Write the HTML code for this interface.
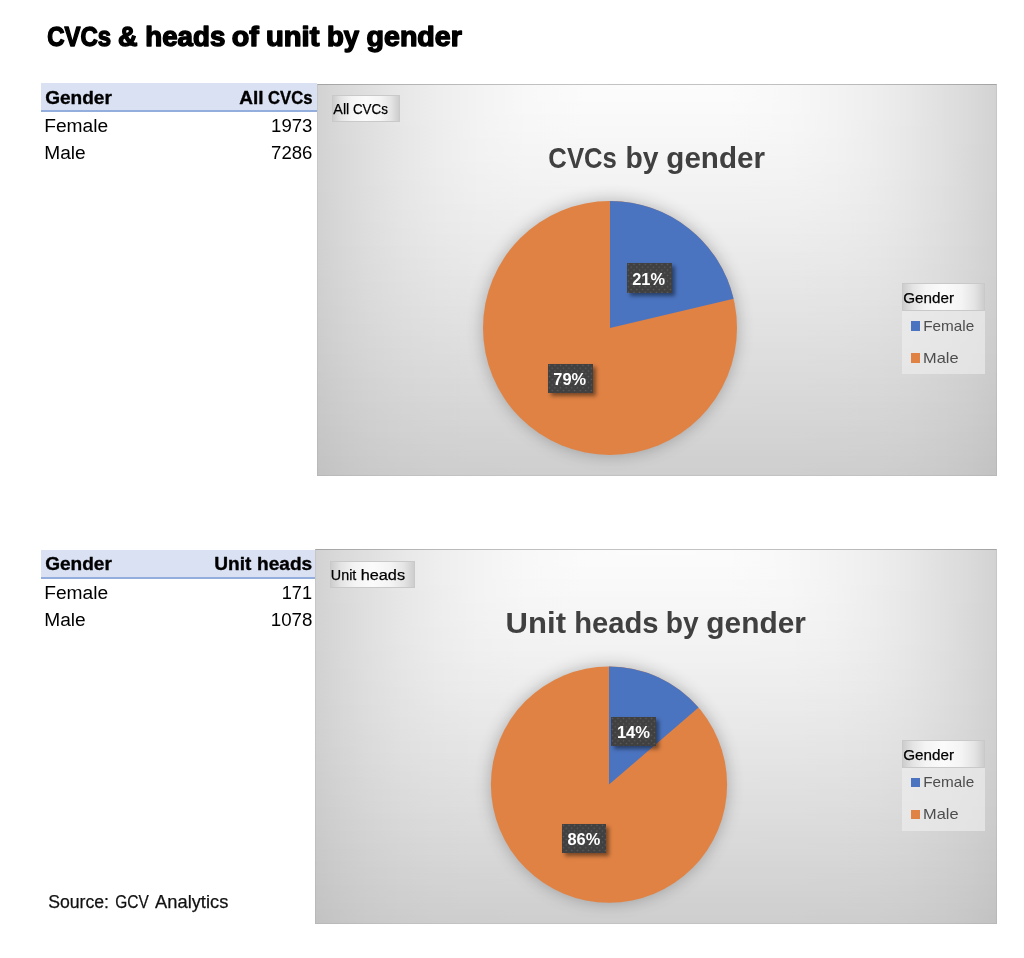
<!DOCTYPE html>
<html><head><meta charset="utf-8"><title>CVCs &amp; heads of unit by gender</title>
<style>
html,body{margin:0;padding:0;background:#fff;}
body{width:1024px;height:958px;position:relative;overflow:hidden;font-family:"Liberation Sans",sans-serif;}
svg.pies{position:absolute;left:0;top:0;z-index:2;}
svg.txt{position:absolute;left:0;top:0;z-index:5;will-change:transform;}
.hdr{position:absolute;background:#d9e1f2;border-bottom:2px solid #93addd;box-sizing:border-box;}
.chart{z-index:1;position:absolute;overflow:hidden;background:#ddd;}
.chart i{position:absolute;left:0;right:0;display:block;}
.chart:after{content:'';position:absolute;left:0;top:0;right:0;bottom:0;border:1px solid rgba(0,0,0,0.05);border-top-color:rgba(0,0,0,0.22);}
.btn{z-index:3;position:absolute;box-sizing:border-box;border:1px solid #c9c9c9;
 background:linear-gradient(90deg,#cdcdcd 0%,#e4e4e4 12%,#f4f4f4 28%,#fbfbfb 50%,#f4f4f4 72%,#e4e4e4 88%,#cdcdcd 100%);}
.legbox{z-index:3;position:absolute;background:rgba(240,240,240,0.6);}
.sw{z-index:4;position:absolute;width:9.4px;height:9.6px;}
.lbl{z-index:4;position:absolute;background-color:#404040;
 background-image:radial-gradient(circle at 1.4px 1.4px,#5e5e5e 0.55px,transparent 1.05px),radial-gradient(circle at 1.4px 1.4px,#5e5e5e 0.55px,transparent 1.05px);
 background-size:5.6px 5.6px;background-position:0 0,2.8px 2.8px;
 box-shadow:3px 3px 4px rgba(0,0,0,0.45);}
</style></head><body>
<div class="hdr" style="left:41.3px;top:83.3px;width:275.7px;height:28.4px"></div>
<div class="hdr" style="left:41.3px;top:550px;width:273.7px;height:28.6px"></div>
<div class="chart" style="left:317px;top:83.6px;width:680.3px;height:392.7px"><i style="top:0px;height:6.5px;background:linear-gradient(90deg,#d2d2d2 0%,#dadada 4%,#e0e0e0 8%,#e8e8e8 13%,#eeeeee 18%,#f3f3f3 24%,#f8f8f8 31%,#fbfbfb 40%,#fcfcfc 50%,#fbfbfb 60%,#f8f8f8 69%,#f3f3f3 76%,#eeeeee 82%,#e8e8e8 87%,#e0e0e0 92%,#dadada 96%,#d2d2d2 100%)"></i><i style="top:6px;height:6.5px;background:linear-gradient(90deg,#d2d2d2 0%,#dadada 4%,#e0e0e0 8%,#e8e8e8 13%,#eeeeee 18%,#f3f3f3 24%,#f8f8f8 31%,#fbfbfb 40%,#fbfbfb 50%,#fbfbfb 60%,#f8f8f8 69%,#f3f3f3 76%,#eeeeee 82%,#e8e8e8 87%,#e0e0e0 92%,#dadada 96%,#d2d2d2 100%)"></i><i style="top:12px;height:6.5px;background:linear-gradient(90deg,#d2d2d2 0%,#dadada 4%,#e0e0e0 8%,#e8e8e8 13%,#eeeeee 18%,#f3f3f3 24%,#f8f8f8 31%,#fbfbfb 40%,#fbfbfb 50%,#fbfbfb 60%,#f8f8f8 69%,#f3f3f3 76%,#eeeeee 82%,#e8e8e8 87%,#e0e0e0 92%,#dadada 96%,#d2d2d2 100%)"></i><i style="top:18px;height:6.5px;background:linear-gradient(90deg,#d2d2d2 0%,#dadada 4%,#e0e0e0 8%,#e8e8e8 13%,#eeeeee 18%,#f3f3f3 24%,#f8f8f8 31%,#fafafa 40%,#fafafa 50%,#fafafa 60%,#f8f8f8 69%,#f3f3f3 76%,#eeeeee 82%,#e8e8e8 87%,#e0e0e0 92%,#dadada 96%,#d2d2d2 100%)"></i><i style="top:24px;height:6.5px;background:linear-gradient(90deg,#d2d2d2 0%,#dadada 4%,#e0e0e0 8%,#e8e8e8 13%,#eeeeee 18%,#f3f3f3 24%,#f8f8f8 31%,#fafafa 40%,#fafafa 50%,#fafafa 60%,#f8f8f8 69%,#f3f3f3 76%,#eeeeee 82%,#e8e8e8 87%,#e0e0e0 92%,#dadada 96%,#d2d2d2 100%)"></i><i style="top:30px;height:6.5px;background:linear-gradient(90deg,#d2d2d2 0%,#dadada 4%,#e0e0e0 8%,#e8e8e8 13%,#eeeeee 18%,#f3f3f3 24%,#f7f7f7 31%,#f9f9f9 40%,#f9f9f9 50%,#f9f9f9 60%,#f7f7f7 69%,#f3f3f3 76%,#eeeeee 82%,#e8e8e8 87%,#e0e0e0 92%,#dadada 96%,#d2d2d2 100%)"></i><i style="top:36px;height:6.5px;background:linear-gradient(90deg,#d2d2d2 0%,#dadada 4%,#e0e0e0 8%,#e8e8e8 13%,#ededed 18%,#f3f3f3 24%,#f7f7f7 31%,#f9f9f9 40%,#f9f9f9 50%,#f9f9f9 60%,#f7f7f7 69%,#f3f3f3 76%,#ededed 82%,#e8e8e8 87%,#e0e0e0 92%,#dadada 96%,#d2d2d2 100%)"></i><i style="top:42px;height:6.5px;background:linear-gradient(90deg,#d2d2d2 0%,#dadada 4%,#e0e0e0 8%,#e7e7e7 13%,#ededed 18%,#f3f3f3 24%,#f7f7f7 31%,#f8f8f8 40%,#f8f8f8 50%,#f8f8f8 60%,#f7f7f7 69%,#f3f3f3 76%,#ededed 82%,#e7e7e7 87%,#e0e0e0 92%,#dadada 96%,#d2d2d2 100%)"></i><i style="top:48px;height:6.5px;background:linear-gradient(90deg,#d2d2d2 0%,#dadada 4%,#e0e0e0 8%,#e7e7e7 13%,#ededed 18%,#f3f3f3 24%,#f6f6f6 31%,#f8f8f8 40%,#f8f8f8 50%,#f8f8f8 60%,#f6f6f6 69%,#f3f3f3 76%,#ededed 82%,#e7e7e7 87%,#e0e0e0 92%,#dadada 96%,#d2d2d2 100%)"></i><i style="top:54px;height:6.5px;background:linear-gradient(90deg,#d2d2d2 0%,#dadada 4%,#e0e0e0 8%,#e7e7e7 13%,#ededed 18%,#f2f2f2 24%,#f6f6f6 31%,#f7f7f7 40%,#f7f7f7 50%,#f7f7f7 60%,#f6f6f6 69%,#f2f2f2 76%,#ededed 82%,#e7e7e7 87%,#e0e0e0 92%,#dadada 96%,#d2d2d2 100%)"></i><i style="top:60px;height:6.5px;background:linear-gradient(90deg,#d2d2d2 0%,#d9d9d9 4%,#e0e0e0 8%,#e7e7e7 13%,#ededed 18%,#f2f2f2 24%,#f5f5f5 31%,#f6f6f6 40%,#f6f6f6 50%,#f6f6f6 60%,#f5f5f5 69%,#f2f2f2 76%,#ededed 82%,#e7e7e7 87%,#e0e0e0 92%,#d9d9d9 96%,#d2d2d2 100%)"></i><i style="top:66px;height:6.5px;background:linear-gradient(90deg,#d2d2d2 0%,#d9d9d9 4%,#e0e0e0 8%,#e7e7e7 13%,#ededed 18%,#f2f2f2 24%,#f5f5f5 31%,#f6f6f6 40%,#f6f6f6 50%,#f6f6f6 60%,#f5f5f5 69%,#f2f2f2 76%,#ededed 82%,#e7e7e7 87%,#e0e0e0 92%,#d9d9d9 96%,#d2d2d2 100%)"></i><i style="top:72px;height:6.5px;background:linear-gradient(90deg,#d2d2d2 0%,#d9d9d9 4%,#e0e0e0 8%,#e7e7e7 13%,#ededed 18%,#f2f2f2 24%,#f4f4f4 31%,#f5f5f5 40%,#f5f5f5 50%,#f5f5f5 60%,#f4f4f4 69%,#f2f2f2 76%,#ededed 82%,#e7e7e7 87%,#e0e0e0 92%,#d9d9d9 96%,#d2d2d2 100%)"></i><i style="top:78px;height:6.5px;background:linear-gradient(90deg,#d2d2d2 0%,#d9d9d9 4%,#e0e0e0 8%,#e7e7e7 13%,#ededed 18%,#f1f1f1 24%,#f4f4f4 31%,#f4f4f4 40%,#f5f5f5 50%,#f4f4f4 60%,#f4f4f4 69%,#f1f1f1 76%,#ededed 82%,#e7e7e7 87%,#e0e0e0 92%,#d9d9d9 96%,#d2d2d2 100%)"></i><i style="top:84px;height:6.5px;background:linear-gradient(90deg,#d2d2d2 0%,#d9d9d9 4%,#e0e0e0 8%,#e7e7e7 13%,#ececec 18%,#f1f1f1 24%,#f3f3f3 31%,#f4f4f4 40%,#f4f4f4 50%,#f4f4f4 60%,#f3f3f3 69%,#f1f1f1 76%,#ececec 82%,#e7e7e7 87%,#e0e0e0 92%,#d9d9d9 96%,#d2d2d2 100%)"></i><i style="top:90px;height:6.5px;background:linear-gradient(90deg,#d2d2d2 0%,#d9d9d9 4%,#e0e0e0 8%,#e7e7e7 13%,#ececec 18%,#f0f0f0 24%,#f3f3f3 31%,#f3f3f3 40%,#f3f3f3 50%,#f3f3f3 60%,#f3f3f3 69%,#f0f0f0 76%,#ececec 82%,#e7e7e7 87%,#e0e0e0 92%,#d9d9d9 96%,#d2d2d2 100%)"></i><i style="top:96px;height:6.5px;background:linear-gradient(90deg,#d2d2d2 0%,#d9d9d9 4%,#e0e0e0 8%,#e6e6e6 13%,#ececec 18%,#f0f0f0 24%,#f2f2f2 31%,#f3f3f3 40%,#f3f3f3 50%,#f3f3f3 60%,#f2f2f2 69%,#f0f0f0 76%,#ececec 82%,#e6e6e6 87%,#e0e0e0 92%,#d9d9d9 96%,#d2d2d2 100%)"></i><i style="top:102px;height:6.5px;background:linear-gradient(90deg,#d2d2d2 0%,#d9d9d9 4%,#dfdfdf 8%,#e6e6e6 13%,#ebebeb 18%,#f0f0f0 24%,#f1f1f1 31%,#f2f2f2 40%,#f2f2f2 50%,#f2f2f2 60%,#f1f1f1 69%,#f0f0f0 76%,#ebebeb 82%,#e6e6e6 87%,#dfdfdf 92%,#d9d9d9 96%,#d2d2d2 100%)"></i><i style="top:108px;height:6.5px;background:linear-gradient(90deg,#d1d1d1 0%,#d9d9d9 4%,#dfdfdf 8%,#e6e6e6 13%,#ebebeb 18%,#efefef 24%,#f1f1f1 31%,#f1f1f1 40%,#f1f1f1 50%,#f1f1f1 60%,#f1f1f1 69%,#efefef 76%,#ebebeb 82%,#e6e6e6 87%,#dfdfdf 92%,#d9d9d9 96%,#d1d1d1 100%)"></i><i style="top:114px;height:6.5px;background:linear-gradient(90deg,#d1d1d1 0%,#d9d9d9 4%,#dfdfdf 8%,#e6e6e6 13%,#ebebeb 18%,#efefef 24%,#f0f0f0 31%,#f1f1f1 40%,#f1f1f1 50%,#f1f1f1 60%,#f0f0f0 69%,#efefef 76%,#ebebeb 82%,#e6e6e6 87%,#dfdfdf 92%,#d9d9d9 96%,#d1d1d1 100%)"></i><i style="top:120px;height:6.5px;background:linear-gradient(90deg,#d1d1d1 0%,#d9d9d9 4%,#dfdfdf 8%,#e6e6e6 13%,#eaeaea 18%,#eeeeee 24%,#f0f0f0 31%,#f0f0f0 40%,#f0f0f0 50%,#f0f0f0 60%,#f0f0f0 69%,#eeeeee 76%,#eaeaea 82%,#e6e6e6 87%,#dfdfdf 92%,#d9d9d9 96%,#d1d1d1 100%)"></i><i style="top:126px;height:6.5px;background:linear-gradient(90deg,#d1d1d1 0%,#d8d8d8 4%,#dfdfdf 8%,#e5e5e5 13%,#eaeaea 18%,#ededed 24%,#efefef 31%,#efefef 40%,#efefef 50%,#efefef 60%,#efefef 69%,#ededed 76%,#eaeaea 82%,#e5e5e5 87%,#dfdfdf 92%,#d8d8d8 96%,#d1d1d1 100%)"></i><i style="top:132px;height:6.5px;background:linear-gradient(90deg,#d1d1d1 0%,#d8d8d8 4%,#dfdfdf 8%,#e5e5e5 13%,#eaeaea 18%,#ededed 24%,#eeeeee 31%,#efefef 40%,#efefef 50%,#efefef 60%,#eeeeee 69%,#ededed 76%,#eaeaea 82%,#e5e5e5 87%,#dfdfdf 92%,#d8d8d8 96%,#d1d1d1 100%)"></i><i style="top:138px;height:6.5px;background:linear-gradient(90deg,#d1d1d1 0%,#d8d8d8 4%,#dedede 8%,#e5e5e5 13%,#e9e9e9 18%,#ececec 24%,#eeeeee 31%,#eeeeee 40%,#eeeeee 50%,#eeeeee 60%,#eeeeee 69%,#ececec 76%,#e9e9e9 82%,#e5e5e5 87%,#dedede 92%,#d8d8d8 96%,#d1d1d1 100%)"></i><i style="top:144px;height:6.5px;background:linear-gradient(90deg,#d1d1d1 0%,#d8d8d8 4%,#dedede 8%,#e4e4e4 13%,#e9e9e9 18%,#ececec 24%,#ededed 31%,#ededed 40%,#ededed 50%,#ededed 60%,#ededed 69%,#ececec 76%,#e9e9e9 82%,#e4e4e4 87%,#dedede 92%,#d8d8d8 96%,#d1d1d1 100%)"></i><i style="top:150px;height:6.5px;background:linear-gradient(90deg,#d1d1d1 0%,#d8d8d8 4%,#dedede 8%,#e4e4e4 13%,#e8e8e8 18%,#ebebeb 24%,#ececec 31%,#ececec 40%,#ececec 50%,#ececec 60%,#ececec 69%,#ebebeb 76%,#e8e8e8 82%,#e4e4e4 87%,#dedede 92%,#d8d8d8 96%,#d1d1d1 100%)"></i><i style="top:156px;height:6.5px;background:linear-gradient(90deg,#d0d0d0 0%,#d8d8d8 4%,#dedede 8%,#e4e4e4 13%,#e8e8e8 18%,#eaeaea 24%,#ececec 31%,#ececec 40%,#ececec 50%,#ececec 60%,#ececec 69%,#eaeaea 76%,#e8e8e8 82%,#e4e4e4 87%,#dedede 92%,#d8d8d8 96%,#d0d0d0 100%)"></i><i style="top:162px;height:6.5px;background:linear-gradient(90deg,#d0d0d0 0%,#d7d7d7 4%,#dddddd 8%,#e3e3e3 13%,#e7e7e7 18%,#eaeaea 24%,#ebebeb 31%,#ebebeb 40%,#ebebeb 50%,#ebebeb 60%,#ebebeb 69%,#eaeaea 76%,#e7e7e7 82%,#e3e3e3 87%,#dddddd 92%,#d7d7d7 96%,#d0d0d0 100%)"></i><i style="top:168px;height:6.5px;background:linear-gradient(90deg,#d0d0d0 0%,#d7d7d7 4%,#dddddd 8%,#e3e3e3 13%,#e7e7e7 18%,#e9e9e9 24%,#eaeaea 31%,#eaeaea 40%,#eaeaea 50%,#eaeaea 60%,#eaeaea 69%,#e9e9e9 76%,#e7e7e7 82%,#e3e3e3 87%,#dddddd 92%,#d7d7d7 96%,#d0d0d0 100%)"></i><i style="top:174px;height:6.5px;background:linear-gradient(90deg,#d0d0d0 0%,#d7d7d7 4%,#dddddd 8%,#e2e2e2 13%,#e6e6e6 18%,#e9e9e9 24%,#e9e9e9 31%,#eaeaea 40%,#eaeaea 50%,#eaeaea 60%,#e9e9e9 69%,#e9e9e9 76%,#e6e6e6 82%,#e2e2e2 87%,#dddddd 92%,#d7d7d7 96%,#d0d0d0 100%)"></i><i style="top:180px;height:6.5px;background:linear-gradient(90deg,#d0d0d0 0%,#d7d7d7 4%,#dcdcdc 8%,#e2e2e2 13%,#e6e6e6 18%,#e8e8e8 24%,#e9e9e9 31%,#e9e9e9 40%,#e9e9e9 50%,#e9e9e9 60%,#e9e9e9 69%,#e8e8e8 76%,#e6e6e6 82%,#e2e2e2 87%,#dcdcdc 92%,#d7d7d7 96%,#d0d0d0 100%)"></i><i style="top:186px;height:6.5px;background:linear-gradient(90deg,#d0d0d0 0%,#d6d6d6 4%,#dcdcdc 8%,#e1e1e1 13%,#e5e5e5 18%,#e7e7e7 24%,#e8e8e8 31%,#e8e8e8 40%,#e8e8e8 50%,#e8e8e8 60%,#e8e8e8 69%,#e7e7e7 76%,#e5e5e5 82%,#e1e1e1 87%,#dcdcdc 92%,#d6d6d6 96%,#d0d0d0 100%)"></i><i style="top:192px;height:6.5px;background:linear-gradient(90deg,#cfcfcf 0%,#d6d6d6 4%,#dcdcdc 8%,#e1e1e1 13%,#e4e4e4 18%,#e6e6e6 24%,#e7e7e7 31%,#e7e7e7 40%,#e7e7e7 50%,#e7e7e7 60%,#e7e7e7 69%,#e6e6e6 76%,#e4e4e4 82%,#e1e1e1 87%,#dcdcdc 92%,#d6d6d6 96%,#cfcfcf 100%)"></i><i style="top:198px;height:6.5px;background:linear-gradient(90deg,#cfcfcf 0%,#d6d6d6 4%,#dbdbdb 8%,#e0e0e0 13%,#e4e4e4 18%,#e6e6e6 24%,#e7e7e7 31%,#e7e7e7 40%,#e7e7e7 50%,#e7e7e7 60%,#e7e7e7 69%,#e6e6e6 76%,#e4e4e4 82%,#e0e0e0 87%,#dbdbdb 92%,#d6d6d6 96%,#cfcfcf 100%)"></i><i style="top:204px;height:6.5px;background:linear-gradient(90deg,#cfcfcf 0%,#d5d5d5 4%,#dbdbdb 8%,#e0e0e0 13%,#e3e3e3 18%,#e5e5e5 24%,#e6e6e6 31%,#e6e6e6 40%,#e6e6e6 50%,#e6e6e6 60%,#e6e6e6 69%,#e5e5e5 76%,#e3e3e3 82%,#e0e0e0 87%,#dbdbdb 92%,#d5d5d5 96%,#cfcfcf 100%)"></i><i style="top:210px;height:6.5px;background:linear-gradient(90deg,#cfcfcf 0%,#d5d5d5 4%,#dbdbdb 8%,#dfdfdf 13%,#e3e3e3 18%,#e4e4e4 24%,#e5e5e5 31%,#e5e5e5 40%,#e5e5e5 50%,#e5e5e5 60%,#e5e5e5 69%,#e4e4e4 76%,#e3e3e3 82%,#dfdfdf 87%,#dbdbdb 92%,#d5d5d5 96%,#cfcfcf 100%)"></i><i style="top:216px;height:6.5px;background:linear-gradient(90deg,#cecece 0%,#d5d5d5 4%,#dadada 8%,#dfdfdf 13%,#e2e2e2 18%,#e4e4e4 24%,#e4e4e4 31%,#e4e4e4 40%,#e4e4e4 50%,#e4e4e4 60%,#e4e4e4 69%,#e4e4e4 76%,#e2e2e2 82%,#dfdfdf 87%,#dadada 92%,#d5d5d5 96%,#cecece 100%)"></i><i style="top:222px;height:6.5px;background:linear-gradient(90deg,#cecece 0%,#d4d4d4 4%,#dadada 8%,#dedede 13%,#e1e1e1 18%,#e3e3e3 24%,#e4e4e4 31%,#e4e4e4 40%,#e4e4e4 50%,#e4e4e4 60%,#e4e4e4 69%,#e3e3e3 76%,#e1e1e1 82%,#dedede 87%,#dadada 92%,#d4d4d4 96%,#cecece 100%)"></i><i style="top:228px;height:6.5px;background:linear-gradient(90deg,#cecece 0%,#d4d4d4 4%,#d9d9d9 8%,#dedede 13%,#e1e1e1 18%,#e2e2e2 24%,#e3e3e3 31%,#e3e3e3 40%,#e3e3e3 50%,#e3e3e3 60%,#e3e3e3 69%,#e2e2e2 76%,#e1e1e1 82%,#dedede 87%,#d9d9d9 92%,#d4d4d4 96%,#cecece 100%)"></i><i style="top:234px;height:6.5px;background:linear-gradient(90deg,#cdcdcd 0%,#d4d4d4 4%,#d9d9d9 8%,#dddddd 13%,#e0e0e0 18%,#e2e2e2 24%,#e2e2e2 31%,#e2e2e2 40%,#e2e2e2 50%,#e2e2e2 60%,#e2e2e2 69%,#e2e2e2 76%,#e0e0e0 82%,#dddddd 87%,#d9d9d9 92%,#d4d4d4 96%,#cdcdcd 100%)"></i><i style="top:240px;height:6.5px;background:linear-gradient(90deg,#cdcdcd 0%,#d3d3d3 4%,#d8d8d8 8%,#dddddd 13%,#dfdfdf 18%,#e1e1e1 24%,#e1e1e1 31%,#e2e2e2 40%,#e2e2e2 50%,#e2e2e2 60%,#e1e1e1 69%,#e1e1e1 76%,#dfdfdf 82%,#dddddd 87%,#d8d8d8 92%,#d3d3d3 96%,#cdcdcd 100%)"></i><i style="top:246px;height:6.5px;background:linear-gradient(90deg,#cdcdcd 0%,#d3d3d3 4%,#d8d8d8 8%,#dcdcdc 13%,#dfdfdf 18%,#e0e0e0 24%,#e1e1e1 31%,#e1e1e1 40%,#e1e1e1 50%,#e1e1e1 60%,#e1e1e1 69%,#e0e0e0 76%,#dfdfdf 82%,#dcdcdc 87%,#d8d8d8 92%,#d3d3d3 96%,#cdcdcd 100%)"></i><i style="top:252px;height:6.5px;background:linear-gradient(90deg,#cccccc 0%,#d3d3d3 4%,#d7d7d7 8%,#dbdbdb 13%,#dedede 18%,#dfdfdf 24%,#e0e0e0 31%,#e0e0e0 40%,#e0e0e0 50%,#e0e0e0 60%,#e0e0e0 69%,#dfdfdf 76%,#dedede 82%,#dbdbdb 87%,#d7d7d7 92%,#d3d3d3 96%,#cccccc 100%)"></i><i style="top:258px;height:6.5px;background:linear-gradient(90deg,#cccccc 0%,#d2d2d2 4%,#d7d7d7 8%,#dbdbdb 13%,#dddddd 18%,#dfdfdf 24%,#dfdfdf 31%,#dfdfdf 40%,#dfdfdf 50%,#dfdfdf 60%,#dfdfdf 69%,#dfdfdf 76%,#dddddd 82%,#dbdbdb 87%,#d7d7d7 92%,#d2d2d2 96%,#cccccc 100%)"></i><i style="top:264px;height:6.5px;background:linear-gradient(90deg,#cccccc 0%,#d2d2d2 4%,#d6d6d6 8%,#dadada 13%,#dddddd 18%,#dedede 24%,#dedede 31%,#dedede 40%,#dedede 50%,#dedede 60%,#dedede 69%,#dedede 76%,#dddddd 82%,#dadada 87%,#d6d6d6 92%,#d2d2d2 96%,#cccccc 100%)"></i><i style="top:270px;height:6.5px;background:linear-gradient(90deg,#cbcbcb 0%,#d1d1d1 4%,#d6d6d6 8%,#dadada 13%,#dcdcdc 18%,#dddddd 24%,#dedede 31%,#dedede 40%,#dedede 50%,#dedede 60%,#dedede 69%,#dddddd 76%,#dcdcdc 82%,#dadada 87%,#d6d6d6 92%,#d1d1d1 96%,#cbcbcb 100%)"></i><i style="top:276px;height:6.5px;background:linear-gradient(90deg,#cbcbcb 0%,#d1d1d1 4%,#d5d5d5 8%,#d9d9d9 13%,#dbdbdb 18%,#dcdcdc 24%,#dddddd 31%,#dddddd 40%,#dddddd 50%,#dddddd 60%,#dddddd 69%,#dcdcdc 76%,#dbdbdb 82%,#d9d9d9 87%,#d5d5d5 92%,#d1d1d1 96%,#cbcbcb 100%)"></i><i style="top:282px;height:6.5px;background:linear-gradient(90deg,#cbcbcb 0%,#d0d0d0 4%,#d5d5d5 8%,#d8d8d8 13%,#dadada 18%,#dcdcdc 24%,#dcdcdc 31%,#dcdcdc 40%,#dcdcdc 50%,#dcdcdc 60%,#dcdcdc 69%,#dcdcdc 76%,#dadada 82%,#d8d8d8 87%,#d5d5d5 92%,#d0d0d0 96%,#cbcbcb 100%)"></i><i style="top:288px;height:6.5px;background:linear-gradient(90deg,#cacaca 0%,#d0d0d0 4%,#d4d4d4 8%,#d8d8d8 13%,#dadada 18%,#dbdbdb 24%,#dbdbdb 31%,#dbdbdb 40%,#dbdbdb 50%,#dbdbdb 60%,#dbdbdb 69%,#dbdbdb 76%,#dadada 82%,#d8d8d8 87%,#d4d4d4 92%,#d0d0d0 96%,#cacaca 100%)"></i><i style="top:294px;height:6.5px;background:linear-gradient(90deg,#cacaca 0%,#cfcfcf 4%,#d3d3d3 8%,#d7d7d7 13%,#d9d9d9 18%,#dadada 24%,#dbdbdb 31%,#dbdbdb 40%,#dbdbdb 50%,#dbdbdb 60%,#dbdbdb 69%,#dadada 76%,#d9d9d9 82%,#d7d7d7 87%,#d3d3d3 92%,#cfcfcf 96%,#cacaca 100%)"></i><i style="top:300px;height:6.5px;background:linear-gradient(90deg,#c9c9c9 0%,#cfcfcf 4%,#d3d3d3 8%,#d6d6d6 13%,#d8d8d8 18%,#d9d9d9 24%,#dadada 31%,#dadada 40%,#dadada 50%,#dadada 60%,#dadada 69%,#d9d9d9 76%,#d8d8d8 82%,#d6d6d6 87%,#d3d3d3 92%,#cfcfcf 96%,#c9c9c9 100%)"></i><i style="top:306px;height:6.5px;background:linear-gradient(90deg,#c9c9c9 0%,#cecece 4%,#d2d2d2 8%,#d6d6d6 13%,#d8d8d8 18%,#d9d9d9 24%,#d9d9d9 31%,#d9d9d9 40%,#d9d9d9 50%,#d9d9d9 60%,#d9d9d9 69%,#d9d9d9 76%,#d8d8d8 82%,#d6d6d6 87%,#d2d2d2 92%,#cecece 96%,#c9c9c9 100%)"></i><i style="top:312px;height:6.5px;background:linear-gradient(90deg,#c8c8c8 0%,#cecece 4%,#d2d2d2 8%,#d5d5d5 13%,#d7d7d7 18%,#d8d8d8 24%,#d8d8d8 31%,#d8d8d8 40%,#d8d8d8 50%,#d8d8d8 60%,#d8d8d8 69%,#d8d8d8 76%,#d7d7d7 82%,#d5d5d5 87%,#d2d2d2 92%,#cecece 96%,#c8c8c8 100%)"></i><i style="top:318px;height:6.5px;background:linear-gradient(90deg,#c8c8c8 0%,#cdcdcd 4%,#d1d1d1 8%,#d4d4d4 13%,#d6d6d6 18%,#d7d7d7 24%,#d7d7d7 31%,#d8d8d8 40%,#d8d8d8 50%,#d8d8d8 60%,#d7d7d7 69%,#d7d7d7 76%,#d6d6d6 82%,#d4d4d4 87%,#d1d1d1 92%,#cdcdcd 96%,#c8c8c8 100%)"></i><i style="top:324px;height:6.5px;background:linear-gradient(90deg,#c8c8c8 0%,#cdcdcd 4%,#d0d0d0 8%,#d4d4d4 13%,#d5d5d5 18%,#d6d6d6 24%,#d7d7d7 31%,#d7d7d7 40%,#d7d7d7 50%,#d7d7d7 60%,#d7d7d7 69%,#d6d6d6 76%,#d5d5d5 82%,#d4d4d4 87%,#d0d0d0 92%,#cdcdcd 96%,#c8c8c8 100%)"></i><i style="top:330px;height:6.5px;background:linear-gradient(90deg,#c7c7c7 0%,#cccccc 4%,#d0d0d0 8%,#d3d3d3 13%,#d5d5d5 18%,#d6d6d6 24%,#d6d6d6 31%,#d6d6d6 40%,#d6d6d6 50%,#d6d6d6 60%,#d6d6d6 69%,#d6d6d6 76%,#d5d5d5 82%,#d3d3d3 87%,#d0d0d0 92%,#cccccc 96%,#c7c7c7 100%)"></i><i style="top:336px;height:6.5px;background:linear-gradient(90deg,#c7c7c7 0%,#cccccc 4%,#cfcfcf 8%,#d2d2d2 13%,#d4d4d4 18%,#d5d5d5 24%,#d5d5d5 31%,#d5d5d5 40%,#d5d5d5 50%,#d5d5d5 60%,#d5d5d5 69%,#d5d5d5 76%,#d4d4d4 82%,#d2d2d2 87%,#cfcfcf 92%,#cccccc 96%,#c7c7c7 100%)"></i><i style="top:342px;height:6.5px;background:linear-gradient(90deg,#c6c6c6 0%,#cbcbcb 4%,#cfcfcf 8%,#d2d2d2 13%,#d3d3d3 18%,#d4d4d4 24%,#d4d4d4 31%,#d4d4d4 40%,#d4d4d4 50%,#d4d4d4 60%,#d4d4d4 69%,#d4d4d4 76%,#d3d3d3 82%,#d2d2d2 87%,#cfcfcf 92%,#cbcbcb 96%,#c6c6c6 100%)"></i><i style="top:348px;height:6.5px;background:linear-gradient(90deg,#c6c6c6 0%,#cacaca 4%,#cecece 8%,#d1d1d1 13%,#d2d2d2 18%,#d3d3d3 24%,#d4d4d4 31%,#d4d4d4 40%,#d4d4d4 50%,#d4d4d4 60%,#d4d4d4 69%,#d3d3d3 76%,#d2d2d2 82%,#d1d1d1 87%,#cecece 92%,#cacaca 96%,#c6c6c6 100%)"></i><i style="top:354px;height:6.5px;background:linear-gradient(90deg,#c5c5c5 0%,#cacaca 4%,#cdcdcd 8%,#d0d0d0 13%,#d2d2d2 18%,#d2d2d2 24%,#d3d3d3 31%,#d3d3d3 40%,#d3d3d3 50%,#d3d3d3 60%,#d3d3d3 69%,#d2d2d2 76%,#d2d2d2 82%,#d0d0d0 87%,#cdcdcd 92%,#cacaca 96%,#c5c5c5 100%)"></i><i style="top:360px;height:6.5px;background:linear-gradient(90deg,#c5c5c5 0%,#c9c9c9 4%,#cdcdcd 8%,#cfcfcf 13%,#d1d1d1 18%,#d2d2d2 24%,#d2d2d2 31%,#d2d2d2 40%,#d2d2d2 50%,#d2d2d2 60%,#d2d2d2 69%,#d2d2d2 76%,#d1d1d1 82%,#cfcfcf 87%,#cdcdcd 92%,#c9c9c9 96%,#c5c5c5 100%)"></i><i style="top:366px;height:6.5px;background:linear-gradient(90deg,#c4c4c4 0%,#c9c9c9 4%,#cccccc 8%,#cfcfcf 13%,#d0d0d0 18%,#d1d1d1 24%,#d1d1d1 31%,#d1d1d1 40%,#d1d1d1 50%,#d1d1d1 60%,#d1d1d1 69%,#d1d1d1 76%,#d0d0d0 82%,#cfcfcf 87%,#cccccc 92%,#c9c9c9 96%,#c4c4c4 100%)"></i><i style="top:372px;height:6.5px;background:linear-gradient(90deg,#c3c3c3 0%,#c8c8c8 4%,#cbcbcb 8%,#cecece 13%,#cfcfcf 18%,#d0d0d0 24%,#d0d0d0 31%,#d0d0d0 40%,#d0d0d0 50%,#d0d0d0 60%,#d0d0d0 69%,#d0d0d0 76%,#cfcfcf 82%,#cecece 87%,#cbcbcb 92%,#c8c8c8 96%,#c3c3c3 100%)"></i><i style="top:378px;height:6.5px;background:linear-gradient(90deg,#c3c3c3 0%,#c7c7c7 4%,#cbcbcb 8%,#cdcdcd 13%,#cfcfcf 18%,#cfcfcf 24%,#d0d0d0 31%,#d0d0d0 40%,#d0d0d0 50%,#d0d0d0 60%,#d0d0d0 69%,#cfcfcf 76%,#cfcfcf 82%,#cdcdcd 87%,#cbcbcb 92%,#c7c7c7 96%,#c3c3c3 100%)"></i><i style="top:384px;height:6.5px;background:linear-gradient(90deg,#c2c2c2 0%,#c7c7c7 4%,#cacaca 8%,#cccccc 13%,#cecece 18%,#cecece 24%,#cfcfcf 31%,#cfcfcf 40%,#cfcfcf 50%,#cfcfcf 60%,#cfcfcf 69%,#cecece 76%,#cecece 82%,#cccccc 87%,#cacaca 92%,#c7c7c7 96%,#c2c2c2 100%)"></i><i style="top:390px;height:3.2px;background:linear-gradient(90deg,#c2c2c2 0%,#c6c6c6 4%,#c9c9c9 8%,#cccccc 13%,#cdcdcd 18%,#cecece 24%,#cecece 31%,#cecece 40%,#cecece 50%,#cecece 60%,#cecece 69%,#cecece 76%,#cdcdcd 82%,#cccccc 87%,#c9c9c9 92%,#c6c6c6 96%,#c2c2c2 100%)"></i></div>
<div class="btn" style="left:331.7px;top:95.2px;width:68px;height:26.5px"></div>
<div class="legbox" style="left:902px;top:283px;width:83px;height:91px"></div>
<div class="btn" style="left:902px;top:283px;width:83px;height:28px"></div>
<div class="sw" style="left:910.6px;top:321.3px;background:#4b74c0"></div>
<div class="sw" style="left:910.6px;top:353.3px;background:#e08244"></div>
<div class="lbl" style="left:626.8px;top:263.1px;width:45.3px;height:29.7px"></div>
<div class="lbl" style="left:548px;top:363.9px;width:44.8px;height:28.9px"></div>
<div class="chart" style="left:315px;top:549.25px;width:682.25px;height:374.25px"><i style="top:0px;height:6.5px;background:linear-gradient(90deg,#d2d2d2 0%,#dadada 4%,#e0e0e0 8%,#e8e8e8 13%,#eeeeee 18%,#f3f3f3 24%,#f8f8f8 31%,#fbfbfb 40%,#fcfcfc 50%,#fbfbfb 60%,#f8f8f8 69%,#f3f3f3 76%,#eeeeee 82%,#e8e8e8 87%,#e0e0e0 92%,#dadada 96%,#d2d2d2 100%)"></i><i style="top:6px;height:6.5px;background:linear-gradient(90deg,#d2d2d2 0%,#dadada 4%,#e0e0e0 8%,#e8e8e8 13%,#eeeeee 18%,#f3f3f3 24%,#f8f8f8 31%,#fbfbfb 40%,#fbfbfb 50%,#fbfbfb 60%,#f8f8f8 69%,#f3f3f3 76%,#eeeeee 82%,#e8e8e8 87%,#e0e0e0 92%,#dadada 96%,#d2d2d2 100%)"></i><i style="top:12px;height:6.5px;background:linear-gradient(90deg,#d2d2d2 0%,#dadada 4%,#e0e0e0 8%,#e8e8e8 13%,#eeeeee 18%,#f3f3f3 24%,#f8f8f8 31%,#fbfbfb 40%,#fbfbfb 50%,#fbfbfb 60%,#f8f8f8 69%,#f3f3f3 76%,#eeeeee 82%,#e8e8e8 87%,#e0e0e0 92%,#dadada 96%,#d2d2d2 100%)"></i><i style="top:18px;height:6.5px;background:linear-gradient(90deg,#d2d2d2 0%,#dadada 4%,#e0e0e0 8%,#e8e8e8 13%,#eeeeee 18%,#f3f3f3 24%,#f8f8f8 31%,#fafafa 40%,#fafafa 50%,#fafafa 60%,#f8f8f8 69%,#f3f3f3 76%,#eeeeee 82%,#e8e8e8 87%,#e0e0e0 92%,#dadada 96%,#d2d2d2 100%)"></i><i style="top:24px;height:6.5px;background:linear-gradient(90deg,#d2d2d2 0%,#dadada 4%,#e0e0e0 8%,#e8e8e8 13%,#eeeeee 18%,#f3f3f3 24%,#f8f8f8 31%,#fafafa 40%,#fafafa 50%,#fafafa 60%,#f8f8f8 69%,#f3f3f3 76%,#eeeeee 82%,#e8e8e8 87%,#e0e0e0 92%,#dadada 96%,#d2d2d2 100%)"></i><i style="top:30px;height:6.5px;background:linear-gradient(90deg,#d2d2d2 0%,#dadada 4%,#e0e0e0 8%,#e8e8e8 13%,#eeeeee 18%,#f3f3f3 24%,#f7f7f7 31%,#f9f9f9 40%,#f9f9f9 50%,#f9f9f9 60%,#f7f7f7 69%,#f3f3f3 76%,#eeeeee 82%,#e8e8e8 87%,#e0e0e0 92%,#dadada 96%,#d2d2d2 100%)"></i><i style="top:36px;height:6.5px;background:linear-gradient(90deg,#d2d2d2 0%,#dadada 4%,#e0e0e0 8%,#e8e8e8 13%,#ededed 18%,#f3f3f3 24%,#f7f7f7 31%,#f9f9f9 40%,#f9f9f9 50%,#f9f9f9 60%,#f7f7f7 69%,#f3f3f3 76%,#ededed 82%,#e8e8e8 87%,#e0e0e0 92%,#dadada 96%,#d2d2d2 100%)"></i><i style="top:42px;height:6.5px;background:linear-gradient(90deg,#d2d2d2 0%,#dadada 4%,#e0e0e0 8%,#e7e7e7 13%,#ededed 18%,#f3f3f3 24%,#f7f7f7 31%,#f8f8f8 40%,#f8f8f8 50%,#f8f8f8 60%,#f7f7f7 69%,#f3f3f3 76%,#ededed 82%,#e7e7e7 87%,#e0e0e0 92%,#dadada 96%,#d2d2d2 100%)"></i><i style="top:48px;height:6.5px;background:linear-gradient(90deg,#d2d2d2 0%,#dadada 4%,#e0e0e0 8%,#e7e7e7 13%,#ededed 18%,#f3f3f3 24%,#f6f6f6 31%,#f7f7f7 40%,#f7f7f7 50%,#f7f7f7 60%,#f6f6f6 69%,#f3f3f3 76%,#ededed 82%,#e7e7e7 87%,#e0e0e0 92%,#dadada 96%,#d2d2d2 100%)"></i><i style="top:54px;height:6.5px;background:linear-gradient(90deg,#d2d2d2 0%,#d9d9d9 4%,#e0e0e0 8%,#e7e7e7 13%,#ededed 18%,#f2f2f2 24%,#f6f6f6 31%,#f7f7f7 40%,#f7f7f7 50%,#f7f7f7 60%,#f6f6f6 69%,#f2f2f2 76%,#ededed 82%,#e7e7e7 87%,#e0e0e0 92%,#d9d9d9 96%,#d2d2d2 100%)"></i><i style="top:60px;height:6.5px;background:linear-gradient(90deg,#d2d2d2 0%,#d9d9d9 4%,#e0e0e0 8%,#e7e7e7 13%,#ededed 18%,#f2f2f2 24%,#f5f5f5 31%,#f6f6f6 40%,#f6f6f6 50%,#f6f6f6 60%,#f5f5f5 69%,#f2f2f2 76%,#ededed 82%,#e7e7e7 87%,#e0e0e0 92%,#d9d9d9 96%,#d2d2d2 100%)"></i><i style="top:66px;height:6.5px;background:linear-gradient(90deg,#d2d2d2 0%,#d9d9d9 4%,#e0e0e0 8%,#e7e7e7 13%,#ededed 18%,#f2f2f2 24%,#f5f5f5 31%,#f5f5f5 40%,#f5f5f5 50%,#f5f5f5 60%,#f5f5f5 69%,#f2f2f2 76%,#ededed 82%,#e7e7e7 87%,#e0e0e0 92%,#d9d9d9 96%,#d2d2d2 100%)"></i><i style="top:72px;height:6.5px;background:linear-gradient(90deg,#d2d2d2 0%,#d9d9d9 4%,#e0e0e0 8%,#e7e7e7 13%,#ededed 18%,#f1f1f1 24%,#f4f4f4 31%,#f5f5f5 40%,#f5f5f5 50%,#f5f5f5 60%,#f4f4f4 69%,#f1f1f1 76%,#ededed 82%,#e7e7e7 87%,#e0e0e0 92%,#d9d9d9 96%,#d2d2d2 100%)"></i><i style="top:78px;height:6.5px;background:linear-gradient(90deg,#d2d2d2 0%,#d9d9d9 4%,#e0e0e0 8%,#e7e7e7 13%,#ececec 18%,#f1f1f1 24%,#f4f4f4 31%,#f4f4f4 40%,#f4f4f4 50%,#f4f4f4 60%,#f4f4f4 69%,#f1f1f1 76%,#ececec 82%,#e7e7e7 87%,#e0e0e0 92%,#d9d9d9 96%,#d2d2d2 100%)"></i><i style="top:84px;height:6.5px;background:linear-gradient(90deg,#d2d2d2 0%,#d9d9d9 4%,#e0e0e0 8%,#e7e7e7 13%,#ececec 18%,#f1f1f1 24%,#f3f3f3 31%,#f3f3f3 40%,#f3f3f3 50%,#f3f3f3 60%,#f3f3f3 69%,#f1f1f1 76%,#ececec 82%,#e7e7e7 87%,#e0e0e0 92%,#d9d9d9 96%,#d2d2d2 100%)"></i><i style="top:90px;height:6.5px;background:linear-gradient(90deg,#d2d2d2 0%,#d9d9d9 4%,#e0e0e0 8%,#e7e7e7 13%,#ececec 18%,#f0f0f0 24%,#f2f2f2 31%,#f3f3f3 40%,#f3f3f3 50%,#f3f3f3 60%,#f2f2f2 69%,#f0f0f0 76%,#ececec 82%,#e7e7e7 87%,#e0e0e0 92%,#d9d9d9 96%,#d2d2d2 100%)"></i><i style="top:96px;height:6.5px;background:linear-gradient(90deg,#d2d2d2 0%,#d9d9d9 4%,#e0e0e0 8%,#e6e6e6 13%,#ececec 18%,#f0f0f0 24%,#f2f2f2 31%,#f2f2f2 40%,#f2f2f2 50%,#f2f2f2 60%,#f2f2f2 69%,#f0f0f0 76%,#ececec 82%,#e6e6e6 87%,#e0e0e0 92%,#d9d9d9 96%,#d2d2d2 100%)"></i><i style="top:102px;height:6.5px;background:linear-gradient(90deg,#d1d1d1 0%,#d9d9d9 4%,#dfdfdf 8%,#e6e6e6 13%,#ebebeb 18%,#efefef 24%,#f1f1f1 31%,#f1f1f1 40%,#f1f1f1 50%,#f1f1f1 60%,#f1f1f1 69%,#efefef 76%,#ebebeb 82%,#e6e6e6 87%,#dfdfdf 92%,#d9d9d9 96%,#d1d1d1 100%)"></i><i style="top:108px;height:6.5px;background:linear-gradient(90deg,#d1d1d1 0%,#d9d9d9 4%,#dfdfdf 8%,#e6e6e6 13%,#ebebeb 18%,#efefef 24%,#f0f0f0 31%,#f1f1f1 40%,#f1f1f1 50%,#f1f1f1 60%,#f0f0f0 69%,#efefef 76%,#ebebeb 82%,#e6e6e6 87%,#dfdfdf 92%,#d9d9d9 96%,#d1d1d1 100%)"></i><i style="top:114px;height:6.5px;background:linear-gradient(90deg,#d1d1d1 0%,#d9d9d9 4%,#dfdfdf 8%,#e6e6e6 13%,#eaeaea 18%,#eeeeee 24%,#f0f0f0 31%,#f0f0f0 40%,#f0f0f0 50%,#f0f0f0 60%,#f0f0f0 69%,#eeeeee 76%,#eaeaea 82%,#e6e6e6 87%,#dfdfdf 92%,#d9d9d9 96%,#d1d1d1 100%)"></i><i style="top:120px;height:6.5px;background:linear-gradient(90deg,#d1d1d1 0%,#d8d8d8 4%,#dfdfdf 8%,#e5e5e5 13%,#eaeaea 18%,#ededed 24%,#efefef 31%,#efefef 40%,#efefef 50%,#efefef 60%,#efefef 69%,#ededed 76%,#eaeaea 82%,#e5e5e5 87%,#dfdfdf 92%,#d8d8d8 96%,#d1d1d1 100%)"></i><i style="top:126px;height:6.5px;background:linear-gradient(90deg,#d1d1d1 0%,#d8d8d8 4%,#dfdfdf 8%,#e5e5e5 13%,#eaeaea 18%,#ededed 24%,#eeeeee 31%,#eeeeee 40%,#eeeeee 50%,#eeeeee 60%,#eeeeee 69%,#ededed 76%,#eaeaea 82%,#e5e5e5 87%,#dfdfdf 92%,#d8d8d8 96%,#d1d1d1 100%)"></i><i style="top:132px;height:6.5px;background:linear-gradient(90deg,#d1d1d1 0%,#d8d8d8 4%,#dedede 8%,#e5e5e5 13%,#e9e9e9 18%,#ececec 24%,#eeeeee 31%,#eeeeee 40%,#eeeeee 50%,#eeeeee 60%,#eeeeee 69%,#ececec 76%,#e9e9e9 82%,#e5e5e5 87%,#dedede 92%,#d8d8d8 96%,#d1d1d1 100%)"></i><i style="top:138px;height:6.5px;background:linear-gradient(90deg,#d1d1d1 0%,#d8d8d8 4%,#dedede 8%,#e4e4e4 13%,#e9e9e9 18%,#ececec 24%,#ededed 31%,#ededed 40%,#ededed 50%,#ededed 60%,#ededed 69%,#ececec 76%,#e9e9e9 82%,#e4e4e4 87%,#dedede 92%,#d8d8d8 96%,#d1d1d1 100%)"></i><i style="top:144px;height:6.5px;background:linear-gradient(90deg,#d1d1d1 0%,#d8d8d8 4%,#dedede 8%,#e4e4e4 13%,#e8e8e8 18%,#ebebeb 24%,#ececec 31%,#ececec 40%,#ececec 50%,#ececec 60%,#ececec 69%,#ebebeb 76%,#e8e8e8 82%,#e4e4e4 87%,#dedede 92%,#d8d8d8 96%,#d1d1d1 100%)"></i><i style="top:150px;height:6.5px;background:linear-gradient(90deg,#d0d0d0 0%,#d8d8d8 4%,#dedede 8%,#e3e3e3 13%,#e8e8e8 18%,#eaeaea 24%,#ebebeb 31%,#ececec 40%,#ececec 50%,#ececec 60%,#ebebeb 69%,#eaeaea 76%,#e8e8e8 82%,#e3e3e3 87%,#dedede 92%,#d8d8d8 96%,#d0d0d0 100%)"></i><i style="top:156px;height:6.5px;background:linear-gradient(90deg,#d0d0d0 0%,#d7d7d7 4%,#dddddd 8%,#e3e3e3 13%,#e7e7e7 18%,#eaeaea 24%,#ebebeb 31%,#ebebeb 40%,#ebebeb 50%,#ebebeb 60%,#ebebeb 69%,#eaeaea 76%,#e7e7e7 82%,#e3e3e3 87%,#dddddd 92%,#d7d7d7 96%,#d0d0d0 100%)"></i><i style="top:162px;height:6.5px;background:linear-gradient(90deg,#d0d0d0 0%,#d7d7d7 4%,#dddddd 8%,#e3e3e3 13%,#e6e6e6 18%,#e9e9e9 24%,#eaeaea 31%,#eaeaea 40%,#eaeaea 50%,#eaeaea 60%,#eaeaea 69%,#e9e9e9 76%,#e6e6e6 82%,#e3e3e3 87%,#dddddd 92%,#d7d7d7 96%,#d0d0d0 100%)"></i><i style="top:168px;height:6.5px;background:linear-gradient(90deg,#d0d0d0 0%,#d7d7d7 4%,#dddddd 8%,#e2e2e2 13%,#e6e6e6 18%,#e8e8e8 24%,#e9e9e9 31%,#e9e9e9 40%,#e9e9e9 50%,#e9e9e9 60%,#e9e9e9 69%,#e8e8e8 76%,#e6e6e6 82%,#e2e2e2 87%,#dddddd 92%,#d7d7d7 96%,#d0d0d0 100%)"></i><i style="top:174px;height:6.5px;background:linear-gradient(90deg,#d0d0d0 0%,#d7d7d7 4%,#dcdcdc 8%,#e2e2e2 13%,#e5e5e5 18%,#e8e8e8 24%,#e8e8e8 31%,#e9e9e9 40%,#e9e9e9 50%,#e9e9e9 60%,#e8e8e8 69%,#e8e8e8 76%,#e5e5e5 82%,#e2e2e2 87%,#dcdcdc 92%,#d7d7d7 96%,#d0d0d0 100%)"></i><i style="top:180px;height:6.5px;background:linear-gradient(90deg,#cfcfcf 0%,#d6d6d6 4%,#dcdcdc 8%,#e1e1e1 13%,#e5e5e5 18%,#e7e7e7 24%,#e8e8e8 31%,#e8e8e8 40%,#e8e8e8 50%,#e8e8e8 60%,#e8e8e8 69%,#e7e7e7 76%,#e5e5e5 82%,#e1e1e1 87%,#dcdcdc 92%,#d6d6d6 96%,#cfcfcf 100%)"></i><i style="top:186px;height:6.5px;background:linear-gradient(90deg,#cfcfcf 0%,#d6d6d6 4%,#dbdbdb 8%,#e1e1e1 13%,#e4e4e4 18%,#e6e6e6 24%,#e7e7e7 31%,#e7e7e7 40%,#e7e7e7 50%,#e7e7e7 60%,#e7e7e7 69%,#e6e6e6 76%,#e4e4e4 82%,#e1e1e1 87%,#dbdbdb 92%,#d6d6d6 96%,#cfcfcf 100%)"></i><i style="top:192px;height:6.5px;background:linear-gradient(90deg,#cfcfcf 0%,#d6d6d6 4%,#dbdbdb 8%,#e0e0e0 13%,#e3e3e3 18%,#e5e5e5 24%,#e6e6e6 31%,#e6e6e6 40%,#e6e6e6 50%,#e6e6e6 60%,#e6e6e6 69%,#e5e5e5 76%,#e3e3e3 82%,#e0e0e0 87%,#dbdbdb 92%,#d6d6d6 96%,#cfcfcf 100%)"></i><i style="top:198px;height:6.5px;background:linear-gradient(90deg,#cfcfcf 0%,#d5d5d5 4%,#dbdbdb 8%,#e0e0e0 13%,#e3e3e3 18%,#e5e5e5 24%,#e5e5e5 31%,#e5e5e5 40%,#e5e5e5 50%,#e5e5e5 60%,#e5e5e5 69%,#e5e5e5 76%,#e3e3e3 82%,#e0e0e0 87%,#dbdbdb 92%,#d5d5d5 96%,#cfcfcf 100%)"></i><i style="top:204px;height:6.5px;background:linear-gradient(90deg,#cecece 0%,#d5d5d5 4%,#dadada 8%,#dfdfdf 13%,#e2e2e2 18%,#e4e4e4 24%,#e5e5e5 31%,#e5e5e5 40%,#e5e5e5 50%,#e5e5e5 60%,#e5e5e5 69%,#e4e4e4 76%,#e2e2e2 82%,#dfdfdf 87%,#dadada 92%,#d5d5d5 96%,#cecece 100%)"></i><i style="top:210px;height:6.5px;background:linear-gradient(90deg,#cecece 0%,#d5d5d5 4%,#dadada 8%,#dfdfdf 13%,#e1e1e1 18%,#e3e3e3 24%,#e4e4e4 31%,#e4e4e4 40%,#e4e4e4 50%,#e4e4e4 60%,#e4e4e4 69%,#e3e3e3 76%,#e1e1e1 82%,#dfdfdf 87%,#dadada 92%,#d5d5d5 96%,#cecece 100%)"></i><i style="top:216px;height:6.5px;background:linear-gradient(90deg,#cecece 0%,#d4d4d4 4%,#d9d9d9 8%,#dedede 13%,#e1e1e1 18%,#e2e2e2 24%,#e3e3e3 31%,#e3e3e3 40%,#e3e3e3 50%,#e3e3e3 60%,#e3e3e3 69%,#e2e2e2 76%,#e1e1e1 82%,#dedede 87%,#d9d9d9 92%,#d4d4d4 96%,#cecece 100%)"></i><i style="top:222px;height:6.5px;background:linear-gradient(90deg,#cdcdcd 0%,#d4d4d4 4%,#d9d9d9 8%,#dddddd 13%,#e0e0e0 18%,#e2e2e2 24%,#e2e2e2 31%,#e2e2e2 40%,#e2e2e2 50%,#e2e2e2 60%,#e2e2e2 69%,#e2e2e2 76%,#e0e0e0 82%,#dddddd 87%,#d9d9d9 92%,#d4d4d4 96%,#cdcdcd 100%)"></i><i style="top:228px;height:6.5px;background:linear-gradient(90deg,#cdcdcd 0%,#d3d3d3 4%,#d8d8d8 8%,#dddddd 13%,#dfdfdf 18%,#e1e1e1 24%,#e1e1e1 31%,#e2e2e2 40%,#e2e2e2 50%,#e2e2e2 60%,#e1e1e1 69%,#e1e1e1 76%,#dfdfdf 82%,#dddddd 87%,#d8d8d8 92%,#d3d3d3 96%,#cdcdcd 100%)"></i><i style="top:234px;height:6.5px;background:linear-gradient(90deg,#cdcdcd 0%,#d3d3d3 4%,#d8d8d8 8%,#dcdcdc 13%,#dfdfdf 18%,#e0e0e0 24%,#e1e1e1 31%,#e1e1e1 40%,#e1e1e1 50%,#e1e1e1 60%,#e1e1e1 69%,#e0e0e0 76%,#dfdfdf 82%,#dcdcdc 87%,#d8d8d8 92%,#d3d3d3 96%,#cdcdcd 100%)"></i><i style="top:240px;height:6.5px;background:linear-gradient(90deg,#cccccc 0%,#d3d3d3 4%,#d7d7d7 8%,#dbdbdb 13%,#dedede 18%,#dfdfdf 24%,#e0e0e0 31%,#e0e0e0 40%,#e0e0e0 50%,#e0e0e0 60%,#e0e0e0 69%,#dfdfdf 76%,#dedede 82%,#dbdbdb 87%,#d7d7d7 92%,#d3d3d3 96%,#cccccc 100%)"></i><i style="top:246px;height:6.5px;background:linear-gradient(90deg,#cccccc 0%,#d2d2d2 4%,#d7d7d7 8%,#dbdbdb 13%,#dddddd 18%,#dfdfdf 24%,#dfdfdf 31%,#dfdfdf 40%,#dfdfdf 50%,#dfdfdf 60%,#dfdfdf 69%,#dfdfdf 76%,#dddddd 82%,#dbdbdb 87%,#d7d7d7 92%,#d2d2d2 96%,#cccccc 100%)"></i><i style="top:252px;height:6.5px;background:linear-gradient(90deg,#cccccc 0%,#d2d2d2 4%,#d6d6d6 8%,#dadada 13%,#dddddd 18%,#dedede 24%,#dedede 31%,#dedede 40%,#dedede 50%,#dedede 60%,#dedede 69%,#dedede 76%,#dddddd 82%,#dadada 87%,#d6d6d6 92%,#d2d2d2 96%,#cccccc 100%)"></i><i style="top:258px;height:6.5px;background:linear-gradient(90deg,#cbcbcb 0%,#d1d1d1 4%,#d6d6d6 8%,#dadada 13%,#dcdcdc 18%,#dddddd 24%,#dedede 31%,#dedede 40%,#dedede 50%,#dedede 60%,#dedede 69%,#dddddd 76%,#dcdcdc 82%,#dadada 87%,#d6d6d6 92%,#d1d1d1 96%,#cbcbcb 100%)"></i><i style="top:264px;height:6.5px;background:linear-gradient(90deg,#cbcbcb 0%,#d1d1d1 4%,#d5d5d5 8%,#d9d9d9 13%,#dbdbdb 18%,#dcdcdc 24%,#dddddd 31%,#dddddd 40%,#dddddd 50%,#dddddd 60%,#dddddd 69%,#dcdcdc 76%,#dbdbdb 82%,#d9d9d9 87%,#d5d5d5 92%,#d1d1d1 96%,#cbcbcb 100%)"></i><i style="top:270px;height:6.5px;background:linear-gradient(90deg,#cbcbcb 0%,#d0d0d0 4%,#d4d4d4 8%,#d8d8d8 13%,#dadada 18%,#dcdcdc 24%,#dcdcdc 31%,#dcdcdc 40%,#dcdcdc 50%,#dcdcdc 60%,#dcdcdc 69%,#dcdcdc 76%,#dadada 82%,#d8d8d8 87%,#d4d4d4 92%,#d0d0d0 96%,#cbcbcb 100%)"></i><i style="top:276px;height:6.5px;background:linear-gradient(90deg,#cacaca 0%,#d0d0d0 4%,#d4d4d4 8%,#d8d8d8 13%,#dadada 18%,#dbdbdb 24%,#dbdbdb 31%,#dbdbdb 40%,#dbdbdb 50%,#dbdbdb 60%,#dbdbdb 69%,#dbdbdb 76%,#dadada 82%,#d8d8d8 87%,#d4d4d4 92%,#d0d0d0 96%,#cacaca 100%)"></i><i style="top:282px;height:6.5px;background:linear-gradient(90deg,#cacaca 0%,#cfcfcf 4%,#d3d3d3 8%,#d7d7d7 13%,#d9d9d9 18%,#dadada 24%,#dadada 31%,#dadada 40%,#dadada 50%,#dadada 60%,#dadada 69%,#dadada 76%,#d9d9d9 82%,#d7d7d7 87%,#d3d3d3 92%,#cfcfcf 96%,#cacaca 100%)"></i><i style="top:288px;height:6.5px;background:linear-gradient(90deg,#c9c9c9 0%,#cfcfcf 4%,#d3d3d3 8%,#d6d6d6 13%,#d8d8d8 18%,#d9d9d9 24%,#d9d9d9 31%,#dadada 40%,#dadada 50%,#dadada 60%,#d9d9d9 69%,#d9d9d9 76%,#d8d8d8 82%,#d6d6d6 87%,#d3d3d3 92%,#cfcfcf 96%,#c9c9c9 100%)"></i><i style="top:294px;height:6.5px;background:linear-gradient(90deg,#c9c9c9 0%,#cecece 4%,#d2d2d2 8%,#d5d5d5 13%,#d7d7d7 18%,#d8d8d8 24%,#d9d9d9 31%,#d9d9d9 40%,#d9d9d9 50%,#d9d9d9 60%,#d9d9d9 69%,#d8d8d8 76%,#d7d7d7 82%,#d5d5d5 87%,#d2d2d2 92%,#cecece 96%,#c9c9c9 100%)"></i><i style="top:300px;height:6.5px;background:linear-gradient(90deg,#c8c8c8 0%,#cdcdcd 4%,#d1d1d1 8%,#d5d5d5 13%,#d7d7d7 18%,#d8d8d8 24%,#d8d8d8 31%,#d8d8d8 40%,#d8d8d8 50%,#d8d8d8 60%,#d8d8d8 69%,#d8d8d8 76%,#d7d7d7 82%,#d5d5d5 87%,#d1d1d1 92%,#cdcdcd 96%,#c8c8c8 100%)"></i><i style="top:306px;height:6.5px;background:linear-gradient(90deg,#c8c8c8 0%,#cdcdcd 4%,#d1d1d1 8%,#d4d4d4 13%,#d6d6d6 18%,#d7d7d7 24%,#d7d7d7 31%,#d7d7d7 40%,#d7d7d7 50%,#d7d7d7 60%,#d7d7d7 69%,#d7d7d7 76%,#d6d6d6 82%,#d4d4d4 87%,#d1d1d1 92%,#cdcdcd 96%,#c8c8c8 100%)"></i><i style="top:312px;height:6.5px;background:linear-gradient(90deg,#c7c7c7 0%,#cccccc 4%,#d0d0d0 8%,#d3d3d3 13%,#d5d5d5 18%,#d6d6d6 24%,#d6d6d6 31%,#d6d6d6 40%,#d6d6d6 50%,#d6d6d6 60%,#d6d6d6 69%,#d6d6d6 76%,#d5d5d5 82%,#d3d3d3 87%,#d0d0d0 92%,#cccccc 96%,#c7c7c7 100%)"></i><i style="top:318px;height:6.5px;background:linear-gradient(90deg,#c7c7c7 0%,#cccccc 4%,#cfcfcf 8%,#d2d2d2 13%,#d4d4d4 18%,#d5d5d5 24%,#d5d5d5 31%,#d5d5d5 40%,#d5d5d5 50%,#d5d5d5 60%,#d5d5d5 69%,#d5d5d5 76%,#d4d4d4 82%,#d2d2d2 87%,#cfcfcf 92%,#cccccc 96%,#c7c7c7 100%)"></i><i style="top:324px;height:6.5px;background:linear-gradient(90deg,#c6c6c6 0%,#cbcbcb 4%,#cfcfcf 8%,#d2d2d2 13%,#d3d3d3 18%,#d4d4d4 24%,#d5d5d5 31%,#d5d5d5 40%,#d5d5d5 50%,#d5d5d5 60%,#d5d5d5 69%,#d4d4d4 76%,#d3d3d3 82%,#d2d2d2 87%,#cfcfcf 92%,#cbcbcb 96%,#c6c6c6 100%)"></i><i style="top:330px;height:6.5px;background:linear-gradient(90deg,#c6c6c6 0%,#cbcbcb 4%,#cecece 8%,#d1d1d1 13%,#d3d3d3 18%,#d3d3d3 24%,#d4d4d4 31%,#d4d4d4 40%,#d4d4d4 50%,#d4d4d4 60%,#d4d4d4 69%,#d3d3d3 76%,#d3d3d3 82%,#d1d1d1 87%,#cecece 92%,#cbcbcb 96%,#c6c6c6 100%)"></i><i style="top:336px;height:6.5px;background:linear-gradient(90deg,#c5c5c5 0%,#cacaca 4%,#cdcdcd 8%,#d0d0d0 13%,#d2d2d2 18%,#d3d3d3 24%,#d3d3d3 31%,#d3d3d3 40%,#d3d3d3 50%,#d3d3d3 60%,#d3d3d3 69%,#d3d3d3 76%,#d2d2d2 82%,#d0d0d0 87%,#cdcdcd 92%,#cacaca 96%,#c5c5c5 100%)"></i><i style="top:342px;height:6.5px;background:linear-gradient(90deg,#c5c5c5 0%,#c9c9c9 4%,#cdcdcd 8%,#cfcfcf 13%,#d1d1d1 18%,#d2d2d2 24%,#d2d2d2 31%,#d2d2d2 40%,#d2d2d2 50%,#d2d2d2 60%,#d2d2d2 69%,#d2d2d2 76%,#d1d1d1 82%,#cfcfcf 87%,#cdcdcd 92%,#c9c9c9 96%,#c5c5c5 100%)"></i><i style="top:348px;height:6.5px;background:linear-gradient(90deg,#c4c4c4 0%,#c9c9c9 4%,#cccccc 8%,#cfcfcf 13%,#d0d0d0 18%,#d1d1d1 24%,#d1d1d1 31%,#d1d1d1 40%,#d1d1d1 50%,#d1d1d1 60%,#d1d1d1 69%,#d1d1d1 76%,#d0d0d0 82%,#cfcfcf 87%,#cccccc 92%,#c9c9c9 96%,#c4c4c4 100%)"></i><i style="top:354px;height:6.5px;background:linear-gradient(90deg,#c4c4c4 0%,#c8c8c8 4%,#cbcbcb 8%,#cecece 13%,#cfcfcf 18%,#d0d0d0 24%,#d0d0d0 31%,#d0d0d0 40%,#d0d0d0 50%,#d0d0d0 60%,#d0d0d0 69%,#d0d0d0 76%,#cfcfcf 82%,#cecece 87%,#cbcbcb 92%,#c8c8c8 96%,#c4c4c4 100%)"></i><i style="top:360px;height:6.5px;background:linear-gradient(90deg,#c3c3c3 0%,#c7c7c7 4%,#cbcbcb 8%,#cdcdcd 13%,#cfcfcf 18%,#cfcfcf 24%,#d0d0d0 31%,#d0d0d0 40%,#d0d0d0 50%,#d0d0d0 60%,#d0d0d0 69%,#cfcfcf 76%,#cfcfcf 82%,#cdcdcd 87%,#cbcbcb 92%,#c7c7c7 96%,#c3c3c3 100%)"></i><i style="top:366px;height:6.5px;background:linear-gradient(90deg,#c2c2c2 0%,#c7c7c7 4%,#cacaca 8%,#cccccc 13%,#cecece 18%,#cecece 24%,#cfcfcf 31%,#cfcfcf 40%,#cfcfcf 50%,#cfcfcf 60%,#cfcfcf 69%,#cecece 76%,#cecece 82%,#cccccc 87%,#cacaca 92%,#c7c7c7 96%,#c2c2c2 100%)"></i><i style="top:372px;height:2.75px;background:linear-gradient(90deg,#c2c2c2 0%,#c6c6c6 4%,#c9c9c9 8%,#cccccc 13%,#cdcdcd 18%,#cecece 24%,#cecece 31%,#cecece 40%,#cecece 50%,#cecece 60%,#cecece 69%,#cecece 76%,#cdcdcd 82%,#cccccc 87%,#c9c9c9 92%,#c6c6c6 96%,#c2c2c2 100%)"></i></div>
<div class="btn" style="left:330.2px;top:560.8px;width:84.8px;height:26.8px"></div>
<div class="legbox" style="left:902px;top:739.5px;width:83px;height:91px"></div>
<div class="btn" style="left:902px;top:739.5px;width:83px;height:28px"></div>
<div class="sw" style="left:910.6px;top:777.8px;background:#4b74c0"></div>
<div class="sw" style="left:910.6px;top:809.8px;background:#e08244"></div>
<div class="lbl" style="left:611.1px;top:716.9px;width:44.9px;height:29.1px"></div>
<div class="lbl" style="left:561.6px;top:824.1px;width:44.9px;height:28.7px"></div>
<svg class="pies" width="1024" height="958" viewBox="0 0 1024 958"><defs><filter id="ps" x="-20%" y="-20%" width="140%" height="140%"><feGaussianBlur stdDeviation="9"/><feComponentTransfer><feFuncA type="linear" slope="0.3"/></feComponentTransfer></filter></defs>
<circle cx="610" cy="328" r="126" fill="#000" filter="url(#ps)"/>
<circle cx="610" cy="328" r="127" fill="#e08244"/>
<path d="M610,328 L610,201 A127,127 0 0 1 733.60,298.81 Z" fill="#4b74c0"/>
<circle cx="609" cy="784.6" r="117.1" fill="#000" filter="url(#ps)"/>
<circle cx="609" cy="784.6" r="118.1" fill="#e08244"/>
<path d="M609,784.6 L609,666.5 A118.1,118.1 0 0 1 698.52,707.57 Z" fill="#4b74c0"/>
</svg>
<svg class="txt" width="1024" height="958" viewBox="0 0 1024 958" font-family="'Liberation Sans', sans-serif">
<text x="47.24" y="45.79" font-size="26.80" font-weight="700" fill="#000" textLength="63.92" lengthAdjust="spacingAndGlyphs" stroke="#000" stroke-width="1.4" stroke-linejoin="round">CVCs</text>
<text x="118.12" y="45.79" font-size="26.80" font-weight="700" fill="#000" textLength="19.53" lengthAdjust="spacingAndGlyphs" stroke="#000" stroke-width="1.4" stroke-linejoin="round">&amp;</text>
<text x="145.29" y="45.79" font-size="26.80" font-weight="700" fill="#000" textLength="80.01" lengthAdjust="spacingAndGlyphs" stroke="#000" stroke-width="1.4" stroke-linejoin="round">heads</text>
<text x="231.84" y="45.79" font-size="26.80" font-weight="700" fill="#000" textLength="27.06" lengthAdjust="spacingAndGlyphs" stroke="#000" stroke-width="1.4" stroke-linejoin="round">of</text>
<text x="265.95" y="45.79" font-size="26.80" font-weight="700" fill="#000" textLength="53.44" lengthAdjust="spacingAndGlyphs" stroke="#000" stroke-width="1.4" stroke-linejoin="round">unit</text>
<text x="327.05" y="45.79" font-size="26.80" font-weight="700" fill="#000" textLength="32.15" lengthAdjust="spacingAndGlyphs" stroke="#000" stroke-width="1.4" stroke-linejoin="round">by</text>
<text x="366.56" y="45.79" font-size="26.80" font-weight="700" fill="#000" textLength="95.25" lengthAdjust="spacingAndGlyphs" stroke="#000" stroke-width="1.4" stroke-linejoin="round">gender</text>
<text x="45.16" y="103.55" font-size="18.41" font-weight="700" fill="#000" textLength="66.74" lengthAdjust="spacingAndGlyphs" stroke="#000" stroke-width="0.35" stroke-linejoin="round">Gender</text>
<text x="239.29" y="103.55" font-size="18.41" font-weight="700" fill="#000" textLength="24.32" lengthAdjust="spacingAndGlyphs" stroke="#000" stroke-width="0.35" stroke-linejoin="round">All</text>
<text x="268.01" y="103.55" font-size="18.41" font-weight="700" fill="#000" textLength="44.42" lengthAdjust="spacingAndGlyphs" stroke="#000" stroke-width="0.35" stroke-linejoin="round">CVCs</text>
<text x="44.22" y="131.50" font-size="19.20" fill="#000" textLength="63.98" lengthAdjust="spacingAndGlyphs">Female</text>
<text x="271.10" y="131.50" font-size="19.20" fill="#000" textLength="41.32" lengthAdjust="spacingAndGlyphs">1973</text>
<text x="44.22" y="159.00" font-size="19.20" fill="#000" textLength="41.47" lengthAdjust="spacingAndGlyphs">Male</text>
<text x="271.07" y="159.00" font-size="19.20" fill="#000" textLength="41.35" lengthAdjust="spacingAndGlyphs">7286</text>
<text x="45.16" y="570.45" font-size="18.41" font-weight="700" fill="#000" textLength="66.74" lengthAdjust="spacingAndGlyphs" stroke="#000" stroke-width="0.35" stroke-linejoin="round">Gender</text>
<text x="214.28" y="570.45" font-size="18.41" font-weight="700" fill="#000" textLength="37.10" lengthAdjust="spacingAndGlyphs" stroke="#000" stroke-width="0.35" stroke-linejoin="round">Unit</text>
<text x="257.03" y="570.45" font-size="18.41" font-weight="700" fill="#000" textLength="55.24" lengthAdjust="spacingAndGlyphs" stroke="#000" stroke-width="0.35" stroke-linejoin="round">heads</text>
<text x="44.22" y="598.50" font-size="19.20" fill="#000" textLength="63.98" lengthAdjust="spacingAndGlyphs">Female</text>
<text x="281.73" y="598.50" font-size="19.20" fill="#000" textLength="30.36" lengthAdjust="spacingAndGlyphs">171</text>
<text x="44.22" y="625.75" font-size="19.20" fill="#000" textLength="41.47" lengthAdjust="spacingAndGlyphs">Male</text>
<text x="270.79" y="625.75" font-size="19.20" fill="#000" textLength="41.64" lengthAdjust="spacingAndGlyphs">1078</text>
<text x="48.17" y="907.71" font-size="18.26" fill="#111" textLength="60.86" lengthAdjust="spacingAndGlyphs" stroke="#111" stroke-width="0.25" stroke-linejoin="round">Source:</text>
<text x="115.35" y="907.71" font-size="18.26" fill="#111" textLength="33.48" lengthAdjust="spacingAndGlyphs" stroke="#111" stroke-width="0.25" stroke-linejoin="round">GCV</text>
<text x="155.12" y="907.71" font-size="18.26" fill="#111" textLength="73.20" lengthAdjust="spacingAndGlyphs" stroke="#111" stroke-width="0.25" stroke-linejoin="round">Analytics</text>
<text x="333.32" y="114.46" font-size="15.00" fill="#000" textLength="15.94" lengthAdjust="spacingAndGlyphs" stroke="#000" stroke-width="0.25" stroke-linejoin="round">All</text>
<text x="352.95" y="114.46" font-size="15.00" fill="#000" textLength="35.02" lengthAdjust="spacingAndGlyphs" stroke="#000" stroke-width="0.25" stroke-linejoin="round">CVCs</text>
<text x="548.37" y="168.00" font-size="30.00" font-weight="700" fill="#404040" textLength="68.45" lengthAdjust="spacingAndGlyphs">CVCs</text>
<text x="625.40" y="168.00" font-size="30.00" font-weight="700" fill="#404040" textLength="32.99" lengthAdjust="spacingAndGlyphs">by</text>
<text x="666.32" y="168.00" font-size="30.00" font-weight="700" fill="#404040" textLength="98.71" lengthAdjust="spacingAndGlyphs">gender</text>
<text x="632.21" y="285.20" font-size="16.86" font-weight="700" fill="#fff" textLength="32.81" lengthAdjust="spacingAndGlyphs">21%</text>
<text x="553.34" y="385.00" font-size="16.86" font-weight="700" fill="#fff" textLength="32.87" lengthAdjust="spacingAndGlyphs">79%</text>
<text x="903.26" y="303.26" font-size="15.29" fill="#000" textLength="50.81" lengthAdjust="spacingAndGlyphs" stroke="#000" stroke-width="0.25" stroke-linejoin="round">Gender</text>
<text x="923.18" y="330.70" font-size="14.78" fill="#4d4d4d" textLength="50.98" lengthAdjust="spacingAndGlyphs">Female</text>
<text x="923.09" y="362.70" font-size="14.78" fill="#4d4d4d" textLength="35.50" lengthAdjust="spacingAndGlyphs">Male</text>
<text x="330.82" y="580.16" font-size="15.29" fill="#000" textLength="25.52" lengthAdjust="spacingAndGlyphs" stroke="#000" stroke-width="0.25" stroke-linejoin="round">Unit</text>
<text x="360.65" y="580.16" font-size="15.29" fill="#000" textLength="44.42" lengthAdjust="spacingAndGlyphs" stroke="#000" stroke-width="0.25" stroke-linejoin="round">heads</text>
<text x="505.64" y="633.30" font-size="30.00" font-weight="700" fill="#404040" textLength="60.36" lengthAdjust="spacingAndGlyphs">Unit</text>
<text x="574.15" y="633.30" font-size="30.00" font-weight="700" fill="#404040" textLength="84.41" lengthAdjust="spacingAndGlyphs">heads</text>
<text x="665.81" y="633.30" font-size="30.00" font-weight="700" fill="#404040" textLength="32.83" lengthAdjust="spacingAndGlyphs">by</text>
<text x="706.31" y="633.30" font-size="30.00" font-weight="700" fill="#404040" textLength="99.57" lengthAdjust="spacingAndGlyphs">gender</text>
<text x="616.91" y="738.10" font-size="16.86" font-weight="700" fill="#fff" textLength="33.16" lengthAdjust="spacingAndGlyphs">14%</text>
<text x="567.41" y="845.20" font-size="16.86" font-weight="700" fill="#fff" textLength="32.81" lengthAdjust="spacingAndGlyphs">86%</text>
<text x="903.26" y="759.86" font-size="15.29" fill="#000" textLength="50.81" lengthAdjust="spacingAndGlyphs" stroke="#000" stroke-width="0.25" stroke-linejoin="round">Gender</text>
<text x="923.18" y="787.30" font-size="14.78" fill="#4d4d4d" textLength="50.98" lengthAdjust="spacingAndGlyphs">Female</text>
<text x="923.09" y="819.30" font-size="14.78" fill="#4d4d4d" textLength="35.50" lengthAdjust="spacingAndGlyphs">Male</text>
</svg>
</body></html>
